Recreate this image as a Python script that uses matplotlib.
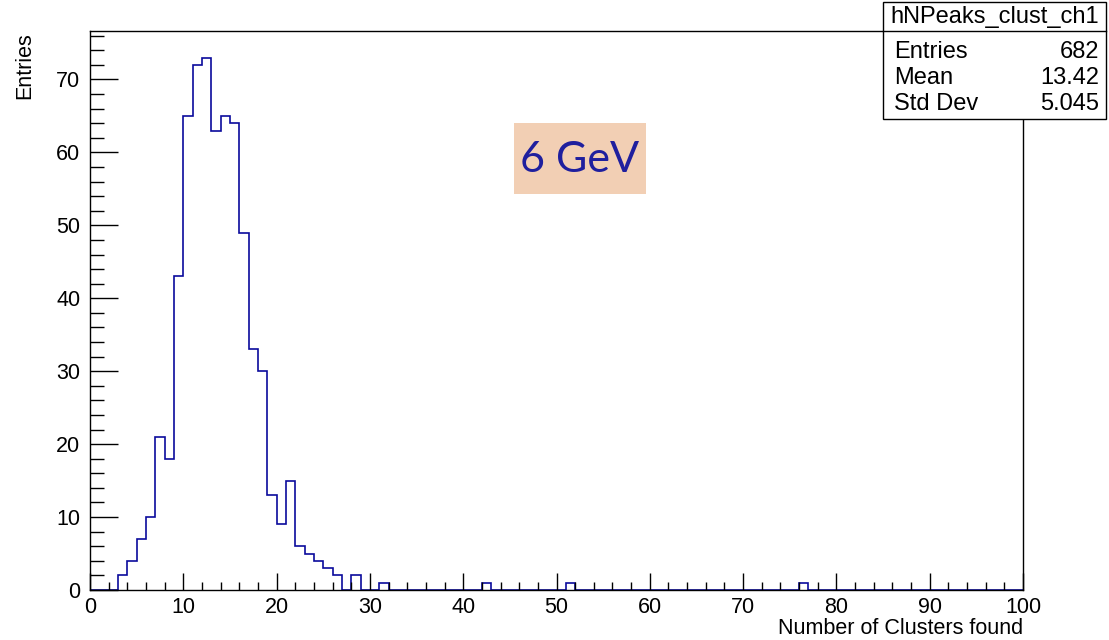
import numpy as np
import matplotlib.pyplot as plt
from matplotlib.patches import Rectangle
from matplotlib.ticker import MultipleLocator

plt.rcParams['font.family'] = ['Liberation Sans', 'DejaVu Sans']

# histogram: 100 bins of width 1 from 0 to 100
bin_edges = np.arange(0, 101, 1)
counts = np.zeros(100)
filled_bins = [3, 4, 5, 6, 7, 8, 9, 10, 11, 12, 13, 14, 15, 16, 17, 18, 19, 20,
               21, 22, 23, 24, 25, 26, 28, 31, 42, 51, 76]
filled_counts = [2, 4, 7, 10, 21, 18, 43, 65, 72, 73, 63, 65, 64, 49, 33, 30, 13, 9,
                 15, 6, 5, 4, 3, 2, 2, 1, 1, 1, 1]
counts[filled_bins] = filled_counts

stat_names = ['Entries', 'Mean', 'Std Dev']
stat_values = ['682', '13.42', '5.045']
hist_name = 'hNPeaks_clust_ch1'

W, H = 1109, 640
fig = plt.figure(figsize=(W / 100, H / 100), dpi=100)
ax = fig.add_axes([90 / W, 1 - 590 / H, (1023 - 90) / W, (590 - 31) / H])

ax.stairs(counts, bin_edges, color='#0a0a9c', linewidth=1.2)

ax.set_xlim(0, 100)
ax.set_ylim(0, 76.65)
ax.xaxis.set_major_locator(MultipleLocator(10))
ax.xaxis.set_minor_locator(MultipleLocator(2))
ax.yaxis.set_major_locator(MultipleLocator(10))
ax.yaxis.set_minor_locator(MultipleLocator(2))
ax.tick_params(axis='both', which='both', direction='in', top=False, right=False,
               labelsize=15.5, width=1)
ax.tick_params(axis='x', which='major', length=12, pad=5)
ax.tick_params(axis='x', which='minor', length=6)
ax.tick_params(axis='y', which='major', length=20, pad=7)
ax.tick_params(axis='y', which='minor', length=10)
for s in ax.spines.values():
    s.set_linewidth(1)

fig.text(25 / W, 1 - 32 / H, 'Entries', rotation=90, ha='center', va='top', fontsize=15.5)
fig.text(1023 / W, 1 - 628 / H, 'Number of Clusters found', ha='right', va='center',
         fontsize=15.5)

# stats box
bx0, bx1, by0, by1 = 883, 1106, 2, 119
fig.patches.append(Rectangle((bx0 / W, 1 - by1 / H), (bx1 - bx0) / W, (by1 - by0) / H,
                             transform=fig.transFigure, facecolor='white',
                             edgecolor='black', linewidth=1, zorder=5))
fig.add_artist(plt.Line2D([bx0 / W, bx1 / W], [1 - 31 / H, 1 - 31 / H],
                          transform=fig.transFigure, color='black', linewidth=1, zorder=6))
fig.text((bx0 + bx1) / 2 / W, 1 - 17 / H, hist_name, ha='center', va='center',
         fontsize=17, zorder=7)
for i, (n, v) in enumerate(zip(stat_names, stat_values)):
    y = 1 - (52 + 26 * i) / H
    fig.text(894 / W, y, n, ha='left', va='center', fontsize=17, zorder=7)
    fig.text(1099 / W, y, v, ha='right', va='center', fontsize=17, zorder=7)

# energy label
fig.patches.append(Rectangle((514 / W, 1 - 194 / H), (646 - 514) / W, (194 - 123) / H,
                             transform=fig.transFigure, facecolor='#f2cfb4',
                             edgecolor='none', zorder=3))
fig.text(580 / W, 1 - 160 / H, '6 GeV', ha='center', va='center', fontsize=31,
         color='#1f1f9e', family=['Lato', 'DejaVu Sans'], zorder=4)

fig.savefig('out.png', dpi=100)
